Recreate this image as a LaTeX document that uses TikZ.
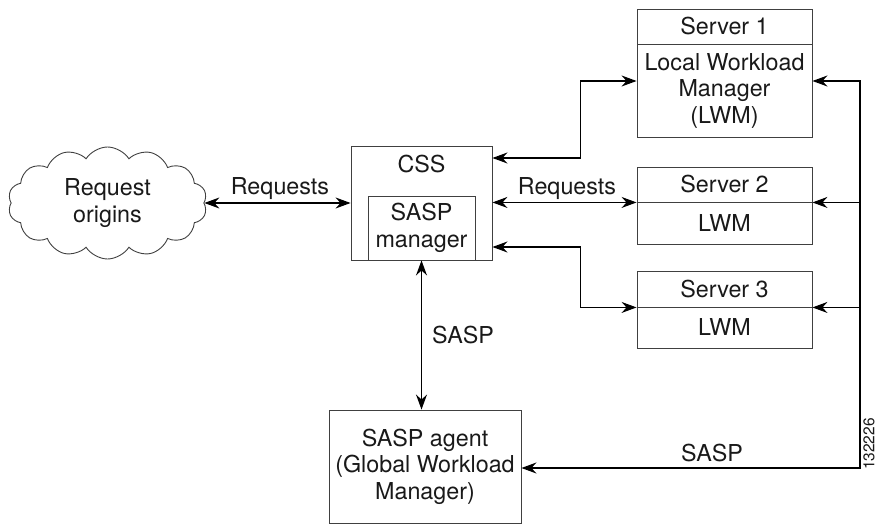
\documentclass[tikz,border=0pt]{standalone}
\usepackage{fontspec}
\setmainfont{TeX Gyre Heros}
\usetikzlibrary{arrows.meta,shapes.symbols}
\begin{document}
\begin{tikzpicture}[x=1pt,y=-1pt,
  txt/.style={font=\fontsize{23.3}{26.5}\selectfont, text=black!90},
  box/.style={txt, draw=black!75, line width=0.9pt, inner sep=0pt, align=center},
  lbl/.style={txt, inner sep=0pt, anchor=base},
  tip/.tip={Stealth[length=15pt,width=11pt,inset=5pt]},
  wire/.style={line width=1.1pt, black},
  link/.style={wire, tip-tip}
]
\useasboundingbox (0,0) rectangle (879,524);

% request source
\node[box, cloud, cloud puffs=14, cloud puff arc=115, aspect=1.8,
      minimum width=199pt, minimum height=112pt] (orig) at (107.5,203) {Request\\origins};

% content services switch with its SASP manager
\node[box, minimum width=141pt, minimum height=114pt] (css) at (421.5,203) {};
\node[lbl] (csslbl) at (421.5,173) {CSS};
\node[box, minimum width=107pt, minimum height=64pt] (mgr) at (421.5,228) {SASP\\manager};

% servers: name on top, workload manager below
\node[box, minimum width=175pt, minimum height=35pt] (s1t) at (724.5,26.5) {Server 1};
\node[box, minimum width=175pt, minimum height=93pt] (s1b) at (724.5,90.5) {Local Workload\\Manager\\(LWM)};
\node[box, minimum width=175pt, minimum height=35pt] (s2t) at (724.5,184.5) {Server 2};
\node[box, minimum width=175pt, minimum height=42pt] (s2b) at (724.5,223) {LWM};
\node[box, minimum width=175pt, minimum height=36pt] (s3t) at (724.5,289) {Server 3};
\node[box, minimum width=175pt, minimum height=41pt] (s3b) at (724.5,327.5) {LWM};

% global workload manager
\node[box, minimum width=192pt, minimum height=113pt] (agent) at (425,466.5) {SASP agent\\(Global Workload\\Manager)};

% request traffic
\draw[link] (orig.east) -- (css.west);
\draw[link] ([yshift=45pt]css.east) -| ([xshift=-56pt,yshift=9.5pt]s1b.west) -- ([yshift=9.5pt]s1b.west);
\draw[link] (css.east |- s2t.south west) -- (s2t.south west);
\draw[link] ([yshift=-44pt]css.east) -| ([xshift=-56pt]s3t.south west) -- (s3t.south west);

% SASP between manager and agent
\draw[link] (mgr.south) -- (mgr.south |- agent.north);

% LWM reporting bus
\coordinate (bus4) at (860,468);
\draw[link] ([yshift=9.5pt]s1b.east) -| (bus4) -- (agent.east |- bus4);
\draw[wire, -tip] (s2t.south east -| bus4) -- (s2t.south east);
\draw[wire, -tip] (s3t.south east -| bus4) -- (s3t.south east);

% labels
\node[lbl] (req1) at (280,195) {Requests};
\node[lbl] (req2) at (567,195) {Requests};
\node[lbl] (sasp1) at (463,343) {SASP};
\node[lbl] (sasp2) at (712,461) {SASP};
\node[txt, font=\fontsize{15.5}{18}\selectfont, rotate=90, inner sep=0pt] (fig) at (869,444) {132226};
\end{tikzpicture}
\end{document}
